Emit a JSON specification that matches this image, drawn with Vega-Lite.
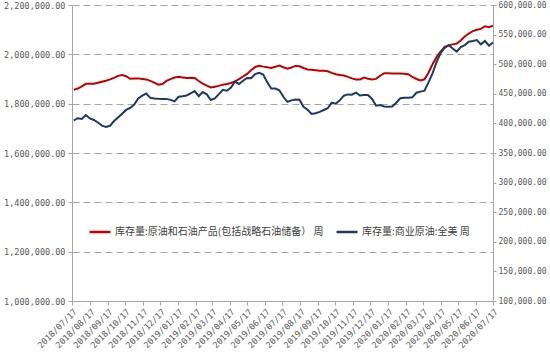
{
  "$schema": "https://vega.github.io/schema/vega-lite/v6.json",
  "autosize": {"type": "none"},
  "width": 421,
  "height": 296,
  "padding": {"left": 72, "top": 5, "right": 57, "bottom": 59},
  "background": "white",
  "config": {
    "view": {"stroke": null},
    "axis": {
      "domainColor": "#A6A6A6",
      "tickColor": "#A6A6A6",
      "labelColor": "#595959",
      "labelFont": "DejaVu Sans Mono",
      "labelFontSize": 8.5,
      "tickSize": 4,
      "title": null
    }
  },
  "data": {
    "values": [
      {"date": "2018/07/20", "total": 1855900, "commercial": 404900},
      {"date": "2018/07/27", "total": 1861200, "commercial": 408700},
      {"date": "2018/08/03", "total": 1869800, "commercial": 407400},
      {"date": "2018/08/10", "total": 1880400, "commercial": 414200},
      {"date": "2018/08/17", "total": 1880400, "commercial": 408400},
      {"date": "2018/08/24", "total": 1880800, "commercial": 405800},
      {"date": "2018/08/31", "total": 1884900, "commercial": 401500},
      {"date": "2018/09/07", "total": 1889000, "commercial": 396200},
      {"date": "2018/09/14", "total": 1893100, "commercial": 394100},
      {"date": "2018/09/21", "total": 1898400, "commercial": 395900},
      {"date": "2018/09/28", "total": 1904500, "commercial": 404000},
      {"date": "2018/10/05", "total": 1912700, "commercial": 410000},
      {"date": "2018/10/12", "total": 1916300, "commercial": 416400},
      {"date": "2018/10/19", "total": 1911400, "commercial": 422800},
      {"date": "2018/10/26", "total": 1900800, "commercial": 426000},
      {"date": "2018/11/02", "total": 1902000, "commercial": 431800},
      {"date": "2018/11/09", "total": 1902500, "commercial": 442100},
      {"date": "2018/11/16", "total": 1900400, "commercial": 446900},
      {"date": "2018/11/23", "total": 1898400, "commercial": 450500},
      {"date": "2018/11/30", "total": 1892200, "commercial": 443200},
      {"date": "2018/12/07", "total": 1885300, "commercial": 442000},
      {"date": "2018/12/14", "total": 1877100, "commercial": 441500},
      {"date": "2018/12/21", "total": 1880000, "commercial": 441400},
      {"date": "2018/12/28", "total": 1892200, "commercial": 441400},
      {"date": "2019/01/04", "total": 1899600, "commercial": 439700},
      {"date": "2019/01/11", "total": 1906100, "commercial": 437100},
      {"date": "2019/01/18", "total": 1909000, "commercial": 445000},
      {"date": "2019/01/25", "total": 1906500, "commercial": 445900},
      {"date": "2019/02/01", "total": 1903700, "commercial": 447200},
      {"date": "2019/02/08", "total": 1905300, "commercial": 450800},
      {"date": "2019/02/15", "total": 1904100, "commercial": 454500},
      {"date": "2019/02/22", "total": 1891800, "commercial": 445900},
      {"date": "2019/03/01", "total": 1881600, "commercial": 452900},
      {"date": "2019/03/08", "total": 1873100, "commercial": 449100},
      {"date": "2019/03/15", "total": 1865700, "commercial": 439500},
      {"date": "2019/03/22", "total": 1869000, "commercial": 442300},
      {"date": "2019/03/29", "total": 1872200, "commercial": 449500},
      {"date": "2019/04/05", "total": 1877100, "commercial": 456600},
      {"date": "2019/04/12", "total": 1879600, "commercial": 455200},
      {"date": "2019/04/19", "total": 1883700, "commercial": 460600},
      {"date": "2019/04/26", "total": 1890200, "commercial": 470600},
      {"date": "2019/05/03", "total": 1899200, "commercial": 466600},
      {"date": "2019/05/10", "total": 1910200, "commercial": 472000},
      {"date": "2019/05/17", "total": 1920800, "commercial": 476800},
      {"date": "2019/05/24", "total": 1935500, "commercial": 476500},
      {"date": "2019/05/31", "total": 1949000, "commercial": 483300},
      {"date": "2019/06/07", "total": 1953500, "commercial": 485500},
      {"date": "2019/06/14", "total": 1950200, "commercial": 482400},
      {"date": "2019/06/21", "total": 1947300, "commercial": 469600},
      {"date": "2019/06/28", "total": 1944900, "commercial": 459000},
      {"date": "2019/07/05", "total": 1949400, "commercial": 459000},
      {"date": "2019/07/12", "total": 1954300, "commercial": 455900},
      {"date": "2019/07/19", "total": 1947800, "commercial": 445000},
      {"date": "2019/07/26", "total": 1942000, "commercial": 436500},
      {"date": "2019/08/02", "total": 1946900, "commercial": 438900},
      {"date": "2019/08/09", "total": 1953100, "commercial": 440500},
      {"date": "2019/08/16", "total": 1951800, "commercial": 439900},
      {"date": "2019/08/23", "total": 1944500, "commercial": 428200},
      {"date": "2019/08/30", "total": 1938800, "commercial": 423000},
      {"date": "2019/09/06", "total": 1937100, "commercial": 416100},
      {"date": "2019/09/13", "total": 1935500, "commercial": 417100},
      {"date": "2019/09/20", "total": 1933900, "commercial": 419500},
      {"date": "2019/09/27", "total": 1933100, "commercial": 422600},
      {"date": "2019/10/04", "total": 1931400, "commercial": 425600},
      {"date": "2019/10/11", "total": 1924900, "commercial": 434900},
      {"date": "2019/10/18", "total": 1919200, "commercial": 433200},
      {"date": "2019/10/25", "total": 1916300, "commercial": 438900},
      {"date": "2019/11/01", "total": 1914300, "commercial": 446800},
      {"date": "2019/11/08", "total": 1908600, "commercial": 449000},
      {"date": "2019/11/15", "total": 1902500, "commercial": 448600},
      {"date": "2019/11/22", "total": 1898000, "commercial": 452000},
      {"date": "2019/11/29", "total": 1898000, "commercial": 447100},
      {"date": "2019/12/06", "total": 1905700, "commercial": 447900},
      {"date": "2019/12/13", "total": 1900800, "commercial": 447800},
      {"date": "2019/12/20", "total": 1898400, "commercial": 441300},
      {"date": "2019/12/27", "total": 1900400, "commercial": 429900},
      {"date": "2020/01/03", "total": 1913100, "commercial": 431100},
      {"date": "2020/01/10", "total": 1923700, "commercial": 428500},
      {"date": "2020/01/17", "total": 1923300, "commercial": 428100},
      {"date": "2020/01/24", "total": 1922400, "commercial": 428500},
      {"date": "2020/01/31", "total": 1922400, "commercial": 435000},
      {"date": "2020/02/07", "total": 1922000, "commercial": 442500},
      {"date": "2020/02/14", "total": 1921600, "commercial": 443300},
      {"date": "2020/02/21", "total": 1919200, "commercial": 443300},
      {"date": "2020/02/28", "total": 1908200, "commercial": 444100},
      {"date": "2020/03/06", "total": 1900000, "commercial": 451800},
      {"date": "2020/03/13", "total": 1894300, "commercial": 453700},
      {"date": "2020/03/20", "total": 1898800, "commercial": 455400},
      {"date": "2020/03/27", "total": 1925300, "commercial": 469200},
      {"date": "2020/04/03", "total": 1959600, "commercial": 484400},
      {"date": "2020/04/10", "total": 1988600, "commercial": 503600},
      {"date": "2020/04/17", "total": 2011400, "commercial": 518600},
      {"date": "2020/04/24", "total": 2030200, "commercial": 527600},
      {"date": "2020/05/01", "total": 2036300, "commercial": 532200},
      {"date": "2020/05/08", "total": 2040400, "commercial": 526500},
      {"date": "2020/05/15", "total": 2043300, "commercial": 521300},
      {"date": "2020/05/22", "total": 2056300, "commercial": 529000},
      {"date": "2020/05/29", "total": 2072200, "commercial": 532300},
      {"date": "2020/06/05", "total": 2084500, "commercial": 538100},
      {"date": "2020/06/12", "total": 2093900, "commercial": 539300},
      {"date": "2020/06/19", "total": 2099600, "commercial": 540700},
      {"date": "2020/06/26", "total": 2103300, "commercial": 533500},
      {"date": "2020/07/03", "total": 2113900, "commercial": 539200},
      {"date": "2020/07/10", "total": 2110200, "commercial": 531500},
      {"date": "2020/07/17", "total": 2116300, "commercial": 536600}
    ]
  },
  "encoding": {
    "x": {
      "field": "date",
      "type": "temporal",
      "scale": {"domain": [{"year": 2018, "month": 7, "date": 17}, {"year": 2020, "month": 7, "date": 17}]},
      "axis": {
        "format": "%Y/%m/%d",
        "labelAngle": -45,
        "labelAlign": "right",
        "labelBaseline": "top",
        "labelPadding": 2,
        "labelOverlap": false,
        "grid": false,
        "values": [
          {"year": 2018, "month": 7, "date": 17}, {"year": 2018, "month": 8, "date": 17},
          {"year": 2018, "month": 9, "date": 17}, {"year": 2018, "month": 10, "date": 17},
          {"year": 2018, "month": 11, "date": 17}, {"year": 2018, "month": 12, "date": 17},
          {"year": 2019, "month": 1, "date": 17}, {"year": 2019, "month": 2, "date": 17},
          {"year": 2019, "month": 3, "date": 17}, {"year": 2019, "month": 4, "date": 17},
          {"year": 2019, "month": 5, "date": 17}, {"year": 2019, "month": 6, "date": 17},
          {"year": 2019, "month": 7, "date": 17}, {"year": 2019, "month": 8, "date": 17},
          {"year": 2019, "month": 9, "date": 17}, {"year": 2019, "month": 10, "date": 17},
          {"year": 2019, "month": 11, "date": 17}, {"year": 2019, "month": 12, "date": 17},
          {"year": 2020, "month": 1, "date": 17}, {"year": 2020, "month": 2, "date": 17},
          {"year": 2020, "month": 3, "date": 17}, {"year": 2020, "month": 4, "date": 17},
          {"year": 2020, "month": 5, "date": 17}, {"year": 2020, "month": 6, "date": 17},
          {"year": 2020, "month": 7, "date": 17}
        ]
      }
    }
  },
  "layer": [
    {
      "mark": {"type": "line", "strokeWidth": 2},
      "encoding": {
        "y": {
          "field": "total",
          "type": "quantitative",
          "scale": {"domain": [1000000, 2200000], "zero": false, "nice": false},
          "axis": {
            "orient": "left",
            "format": ",.2f",
            "values": [1000000, 1200000, 1400000, 1600000, 1800000, 2000000, 2200000],
            "grid": true,
            "gridColor": "#A6A6A6",
            "gridDash": [7, 4],
            "gridWidth": 1,
            "labelPadding": 3
          }
        },
        "color": {
          "datum": "库存量:原油和石油产品(包括战略石油储备） 周",
          "type": "nominal",
          "scale": {
            "domain": ["库存量:原油和石油产品(包括战略石油储备） 周", "库存量:商业原油:全美 周"],
            "range": ["#C00000", "#1F3A5F"]
          },
          "legend": {
            "orient": "none",
            "legendX": 16,
            "legendY": 215,
            "direction": "horizontal",
            "title": null,
            "symbolType": "stroke",
            "symbolSize": 441,
            "symbolStrokeWidth": 2.5,
            "labelFont": "Noto Sans CJK SC",
            "labelFontSize": 10,
            "labelColor": "#404040",
            "labelLimit": 400,
            "labelOffset": 3,
            "columnPadding": 7,
            "padding": 0
          }
        }
      }
    },
    {
      "mark": {"type": "line", "strokeWidth": 2},
      "encoding": {
        "y": {
          "field": "commercial",
          "type": "quantitative",
          "scale": {"domain": [100000, 600000], "zero": false, "nice": false},
          "axis": {
            "orient": "right",
            "format": ",.2f",
            "values": [100000, 150000, 200000, 250000, 300000, 350000, 400000, 450000, 500000, 550000, 600000],
            "grid": false,
            "labelFontSize": 8,
            "tickSize": 3,
            "labelPadding": 2
          }
        },
        "color": {"datum": "库存量:商业原油:全美 周", "type": "nominal"}
      }
    }
  ],
  "resolve": {"scale": {"y": "independent"}}
}
